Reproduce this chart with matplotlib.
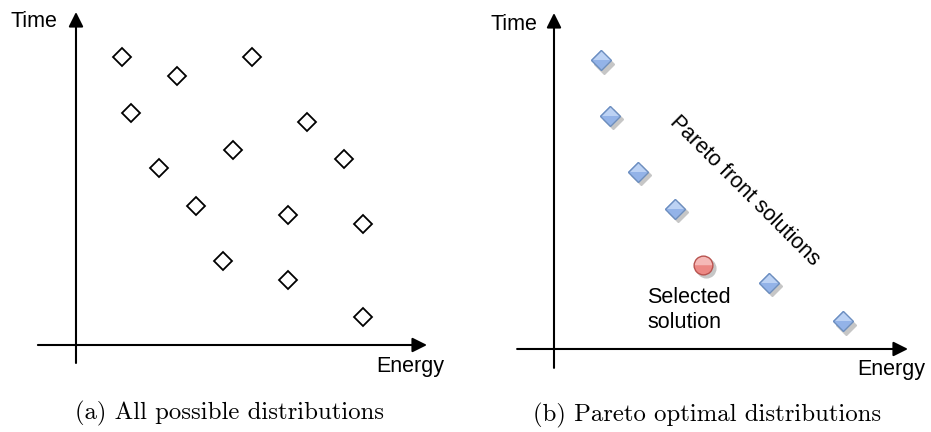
import matplotlib
matplotlib.use("Agg")
import matplotlib.pyplot as plt
from matplotlib.transforms import offset_copy

# ---- data (arbitrary units: Energy on x, Time on y) ----
all_energy = [1.53, 3.37, 5.87, 1.83, 7.70, 5.23, 8.93, 2.77, 4.00, 7.07, 9.57, 4.90, 7.07, 9.57]
all_time   = [9.60, 8.97, 9.60, 7.73, 7.43, 6.50, 6.20, 5.90, 4.63, 4.33, 4.03, 2.80, 2.17, 0.93]

pareto_energy = [1.57, 1.87, 2.80, 4.03, 7.17, 9.63]
pareto_time   = [9.63, 7.77, 5.90, 4.67, 2.20, 0.93]

selected_energy = [4.97]
selected_time   = [2.80]

x_label = "Energy"
y_label = "Time"
captions = ["(a) All possible distributions", "(b) Pareto optimal distributions"]
front_label = "Pareto front solutions"
selected_label = "Selected\nsolution"

SANS = ["Liberation Sans", "DejaVu Sans"]
SERIF = ["cmr10", "DejaVu Serif"]
FS = 15.5

fig = plt.figure(figsize=(9.31, 4.32), dpi=100)
ax1 = fig.add_axes([0, 0, 0.5, 1])
ax2 = fig.add_axes([0.5, 0, 0.5, 1])

ax1.set_xlim(-2.533, 12.983)
ax1.set_ylim(-2.9, 11.5)
ax2.set_xlim(-2.95, 12.567)
ax2.set_ylim(-2.767, 11.633)

for ax in (ax1, ax2):
    ax.axis("off")

def draw_axes(ax, x0, x1, y0, y1):
    ap = dict(arrowstyle="-|>", lw=1.5, color="black", mutation_scale=22,
              shrinkA=0, shrinkB=0)
    ax.annotate("", xy=(x1, 0), xytext=(x0, 0), arrowprops=ap)
    ax.annotate("", xy=(0, y1), xytext=(0, y0), arrowprops=ap)

draw_axes(ax1, -1.27, 11.7, -0.6, 11.1)
draw_axes(ax2, -1.23, 11.8, -0.63, 11.2)

# axis labels
ax1.text(-0.63, 10.77, y_label, ha="right", va="center", fontsize=FS, family=SANS)
ax1.text(10.0, -0.73, x_label, ha="left", va="center", fontsize=FS, family=SANS)
ax2.text(-0.57, 10.83, y_label, ha="right", va="center", fontsize=FS, family=SANS)
ax2.text(10.1, -0.7, x_label, ha="left", va="center", fontsize=FS, family=SANS)

# left: all solutions
ax1.plot(all_energy, all_time, linestyle="none", marker="D", markersize=9.6,
         markerfacecolor="white", markeredgecolor="black", markeredgewidth=1.3)

# right: shadows
shadow = offset_copy(ax2.transData, fig=fig, x=3, y=-3.5, units="dots")
ax2.plot(pareto_energy, pareto_time, linestyle="none", marker="D", markersize=10.2,
         markerfacecolor="#c6c6c6", markeredgecolor="#c6c6c6", markeredgewidth=1.0,
         transform=shadow, zorder=2)
ax2.plot(selected_energy, selected_time, linestyle="none", marker="o", markersize=13.5,
         markerfacecolor="#c6c6c6", markeredgecolor="#c6c6c6", markeredgewidth=1.0,
         transform=shadow, zorder=2)

def gradient_marker(ax, xs, ys, marker, ms, top, bottom, edge):
    ax.plot(xs, ys, linestyle="none", marker=marker, markersize=ms,
            markerfacecolor=bottom, markeredgewidth=0, zorder=3)
    ax.plot(xs, ys, linestyle="none", marker=marker, markersize=ms,
            fillstyle="top", markerfacecolor=top, markerfacecoloralt=bottom,
            markeredgewidth=0, zorder=4)
    ax.plot(xs, ys, linestyle="none", marker=marker, markersize=ms,
            markerfacecolor="none", markeredgecolor=edge, markeredgewidth=1.0,
            zorder=5)

gradient_marker(ax2, pareto_energy, pareto_time, "D", 10.2,
                "#bcd2f4", "#93b3e8", "#6c8ebf")
gradient_marker(ax2, selected_energy, selected_time, "o", 13.5,
                "#f5b9b7", "#ec8884", "#b85450")

ax2.text(6.37, 5.27, front_label, rotation=-45, rotation_mode="anchor",
         ha="center", va="center", fontsize=FS, family=SANS)
ax2.text(3.1, 1.3, selected_label, ha="left", va="center", fontsize=FS,
         family=SANS, linespacing=1.2)

# captions
fig.text(0.246, 0.044, captions[0], ha="center", va="center", fontsize=17.8,
         family=SERIF)
fig.text(0.759, 0.039, captions[1], ha="center", va="center", fontsize=17.8,
         family=SERIF)

fig.savefig("out.png", dpi=100)
